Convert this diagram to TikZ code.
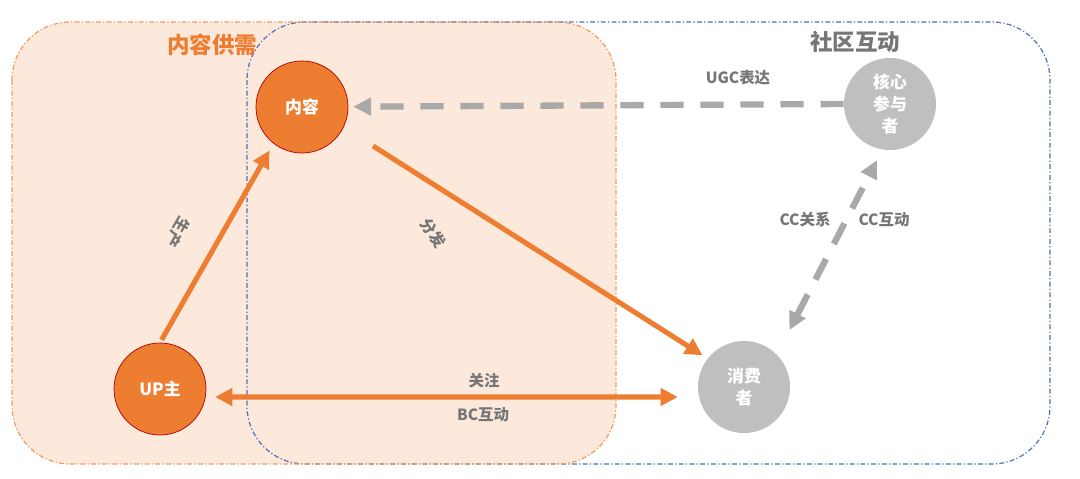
\documentclass[tikz,border=0pt]{standalone}
\usepackage{fontspec}
\setmainfont{Noto Sans CJK SC}
\usetikzlibrary{arrows.meta}

\definecolor{supOrange}{HTML}{ED7D31}
\definecolor{supFill}{HTML}{FCE9DC}
\definecolor{supEdge}{HTML}{F29A5E}
\definecolor{comBlue}{HTML}{4A72B8}
\definecolor{userGray}{HTML}{BFBFBF}
\definecolor{linkGray}{HTML}{A9A9A9}
\definecolor{labelGray}{HTML}{767676}

\begin{document}
\begin{tikzpicture}[x=0.025cm, y=-0.025cm,
    member/.style={circle, minimum size=2.3cm, inner sep=0pt, text=white, align=center,
      font=\fontsize{12}{15.4}\selectfont\bfseries},
    creator/.style={member, fill=supOrange, draw=red!70!black, line width=0.5pt},
    viewer/.style={member, fill=userGray},
    tag/.style={text=labelGray, font=\fontsize{11}{13}\selectfont\bfseries},
    flow/.style={draw=supOrange, line width=3.6pt, -{Triangle[length=0.43cm, width=0.43cm]}},
    talk/.style={draw=linkGray, line width=4.5pt, dash pattern=on 0.58cm off 0.42cm,
      -{Triangle[length=0.45cm, width=0.43cm]}},
    zone/.style={rounded corners=1.45cm, dash pattern=on 3.5pt off 1.6pt on 0.9pt off 1.6pt, line width=0.85pt}]
      \useasboundingbox (0,0) rectangle (1080,479);
      \fill[supFill, rounded corners=1.45cm] (12,22) rectangle (616,464);
      \draw[zone, draw=comBlue] (247,22) rectangle (1050,464);
      \draw[zone, draw=supEdge] (12,22) rectangle (616,464);
      \node[text=supOrange, font=\fontsize{16}{18}\selectfont\bfseries] (supTitle) at (212,45) {内容供需};
      \node[text=labelGray, font=\fontsize{16}{18}\selectfont\bfseries] (comTitle) at (855,42) {社区互动};
      \node[creator] (content) at (302,107) {内容};
      \node[creator] (up) at (160,389) {UP主};
      \node[viewer] (core) at (890,104) {核心\\参与\\者};
      \node[viewer] (cons) at (744,387) {消费\\者};
      \draw[flow, shorten <=0.08cm, shorten >=0.2cm] (up.north) -- (content.232);
      \draw[flow, shorten <=0.87cm, shorten >=0.15cm] (content.-26) -- (cons.142);
      \draw[flow, {Triangle[length=0.43cm, width=0.43cm]}-{Triangle[length=0.43cm, width=0.43cm]},
        shorten <=0.22cm, shorten >=0.5cm] ([yshift=-0.2cm]up.east) -- ([yshift=-0.25cm]cons.west);
      \draw[talk, shorten >=0.12cm] (core.west) -- (content);
      \draw[talk, {Triangle[length=0.45cm, width=0.43cm]}-{Triangle[length=0.45cm, width=0.43cm]},
        shorten <=1.6cm, shorten >=1.58cm] ([xshift=0.4cm]cons.center) -- ([xshift=0.4cm]core.center);
      \node[tag, rotate=-120] (make) at (178,232) {生产};
      \node[tag, rotate=-56] (share) at (433,233) {分发};
      \node[tag] (follow) at (484,381) {关注};
      \node[tag] (bc) at (483,415) {BC互动};
      \node[tag] (ugc) at (738,78) {UGC表达};
      \node[tag] (ccRel) at (805,220) {CC关系};
      \node[tag] (ccAct) at (884,220) {CC互动};
    \end{tikzpicture}
\end{document}
